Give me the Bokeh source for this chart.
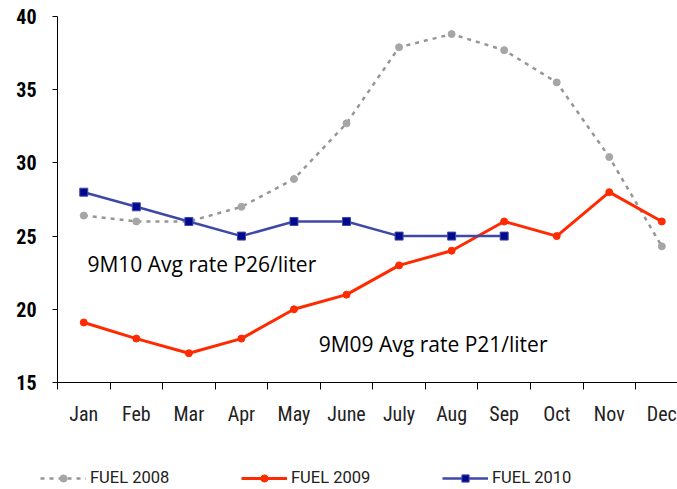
from bokeh.plotting import figure
from bokeh.models import (Range1d, LinearAxis, FixedTicker, Legend, LegendItem, Label)
from bokeh.embed import file_html
from bokeh.resources import INLINE

months = ["Jan", "Feb", "Mar", "Apr", "May", "June", "July", "Aug", "Sep", "Oct", "Nov", "Dec"]
fuel_2008 = [26.4, 26.0, 26.0, 27.0, 28.9, 32.7, 37.9, 38.8, 37.7, 35.5, 30.4, 24.3]
fuel_2009 = [19.1, 18.0, 17.0, 18.0, 20.0, 21.0, 23.0, 24.0, 26.0, 25.0, 28.0, 26.0]
fuel_2010 = [28.0, 27.0, 26.0, 25.0, 26.0, 26.0, 25.0, 25.0, 25.0]
y_ticks = [15, 20, 25, 30, 35, 40]
note_2010 = "9M10 Avg rate P26/liter"
note_2009 = "9M09 Avg rate P21/liter"

xc = [i + 0.5 for i in range(len(months))]

# frame covers the whole canvas; axes are pinned inside it
XPX = 52.55   # pixels per month
YPX = 14.64   # pixels per unit
p = figure(width=677, height=489, output_backend="svg", toolbar_location=None,
           x_range=Range1d(-57 / XPX, 620 / XPX),
           y_range=Range1d(15 - 107 / YPX, 40 + 16 / YPX),
           x_axis_type=None, y_axis_type=None,
           min_border_left=0, min_border_right=0, min_border_top=0, min_border_bottom=0)
p.outline_line_color = None
p.xgrid.visible = False
p.ygrid.visible = False
p.background_fill_color = "white"

NARROW = "'Roboto Condensed', 'Liberation Sans Narrow', 'Liberation Sans', sans-serif"

xaxis = LinearAxis(ticker=FixedTicker(ticks=xc, minor_ticks=list(range(0, 13))),
                   fixed_location=15, bounds=(0, 12))
xaxis.major_label_overrides = {x: m for x, m in zip(xc, months)}
xaxis.major_tick_line_color = None
xaxis.major_tick_in = 0
xaxis.major_tick_out = 0
xaxis.minor_tick_in = 0
xaxis.minor_tick_out = 7
xaxis.minor_tick_line_color = "black"
xaxis.axis_line_color = "black"
xaxis.major_label_text_font = NARROW
xaxis.major_label_text_font_size = "20px"
xaxis.major_label_text_color = "#222222"
xaxis.major_label_standoff = 12
p.add_layout(xaxis, "below")

yaxis = LinearAxis(ticker=FixedTicker(ticks=y_ticks, minor_ticks=[]),
                   fixed_location=0, bounds=(15, 40))
yaxis.major_tick_in = 0
yaxis.major_tick_out = 5
yaxis.major_tick_line_color = "black"
yaxis.axis_line_color = "black"
yaxis.major_label_text_font = NARROW
yaxis.major_label_text_font_style = "bold"
yaxis.major_label_text_font_size = "20px"
yaxis.major_label_text_color = "black"
yaxis.major_label_standoff = 16
p.add_layout(yaxis, "left")

l08 = p.line(xc, fuel_2008, line_color="#969696", line_width=2.5, line_dash="4 5")
s08 = p.scatter(xc, fuel_2008, size=7, marker="circle", fill_color="#A6A6A6", line_color="#A6A6A6")
l09 = p.line(xc, fuel_2009, line_color="#FF2A00", line_width=3)
s09 = p.scatter(xc, fuel_2009, size=7, marker="circle", fill_color="#FF2A00", line_color="#FF2A00")
x10 = xc[:len(fuel_2010)]
l10 = p.line(x10, fuel_2010, line_color="#3F48A8", line_width=2.5)
s10 = p.scatter(x10, fuel_2010, size=8, marker="square", fill_color="#000A8C", line_color="#3F48A8")

legend = Legend(items=[
    LegendItem(label="FUEL 2008", renderers=[l08, s08]),
    LegendItem(label="FUEL 2009", renderers=[l09, s09]),
    LegendItem(label="FUEL 2010", renderers=[l10, s10]),
], orientation="horizontal", location=(40, 2))
legend.glyph_width = 46
legend.glyph_height = 18
legend.label_standoff = 4
legend.label_width = 80
legend.spacing = 71
legend.padding = 0
legend.margin = 0
legend.border_line_color = None
legend.background_fill_alpha = 0
legend.label_text_font = "Roboto"
legend.label_text_font_size = "16.5px"
legend.label_text_color = "#222222"
p.add_layout(legend, "center")

p.add_layout(Label(x=0.57, y=23.1, text=note_2010, text_font="Open Sans", text_font_size="21px",
                   text_color="black", text_baseline="middle"))
p.add_layout(Label(x=4.97, y=17.65, text=note_2009, text_font="Open Sans", text_font_size="21px",
                   text_color="black", text_baseline="middle"))

open("out.html", "w").write(file_html(p, INLINE))
